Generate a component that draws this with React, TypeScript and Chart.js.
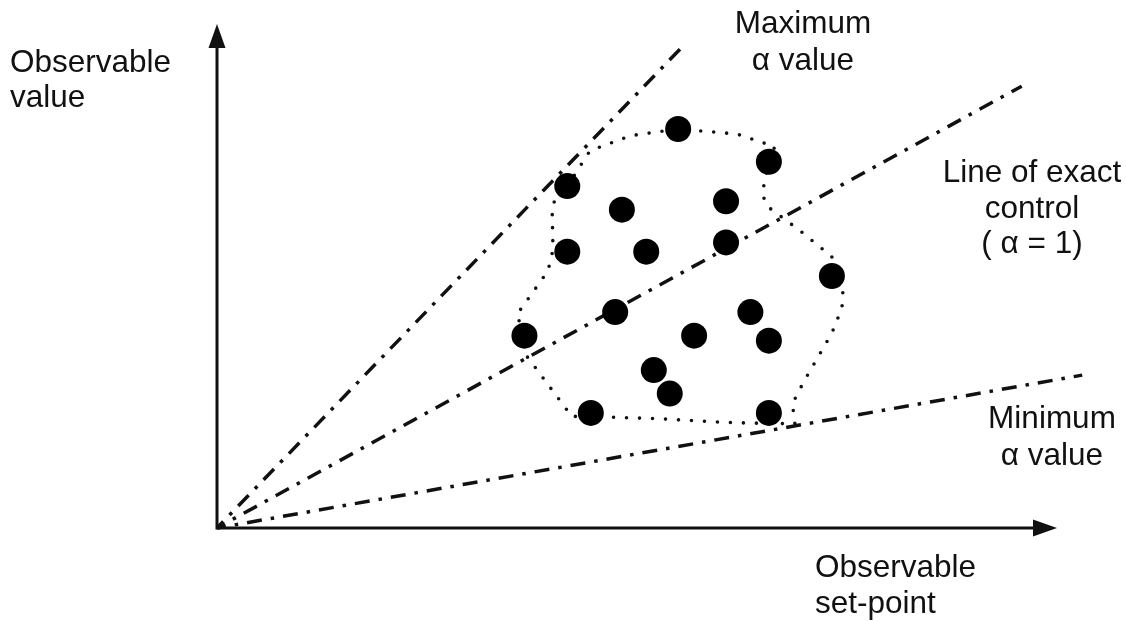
import React, { useEffect, useRef } from "react";
import { Chart, registerables } from "chart.js";

Chart.register(...registerables);

// ---- data (in chart units; origin of the diagram at 0,0) ----
const dotX = [5.49, 6.57, 4.17, 4.82, 6.06, 4.17, 5.11, 6.06, 7.32, 4.74, 6.35, 3.66, 5.68, 6.57, 5.2, 5.39, 4.45, 6.57];
const dotY = [4.75, 4.36, 4.07, 3.79, 3.89, 3.29, 3.29, 3.4, 3.0, 2.57, 2.57, 2.29, 2.29, 2.23, 1.88, 1.6, 1.37, 1.37];

const hullX = [4.17, 4.44, 4.92, 5.49, 6.19, 6.64, 6.57, 6.49, 6.55, 6.94, 7.32, 7.32, 7.45, 7.44, 7.32, 6.99, 6.85, 6.88, 6.31, 5.99, 5.27, 4.68, 4.45, 4.23, 3.64, 3.66, 3.57, 3.94, 4.0, 3.99, 4.04, 4.17];
const hullY = [4.07, 4.49, 4.67, 4.75, 4.69, 4.54, 4.36, 3.98, 3.83, 3.54, 3.23, 3.0, 2.8, 2.62, 2.32, 1.75, 1.48, 1.24, 1.25, 1.26, 1.3, 1.32, 1.37, 1.32, 2.11, 2.29, 2.54, 3.06, 3.31, 3.79, 3.98, 4.07];

// reference lines from the origin: end points
const lineNames = ["Maximum α value", "Line of exact control", "Minimum α value"];
const lineEndX = [5.55, 9.58, 10.3];
const lineEndY = [5.74, 5.26, 1.82];

// axes extents
const X_AXIS_END = 10.0;
const Y_AXIS_END = 6.0;

// annotation texts
const labelLines = [
  ["Observable", "value"],
  ["Maximum", "α value"],
  ["Line of exact", "control", "( α = 1)"],
  ["Minimum", "α value"],
  ["Observable", "set-point"],
];

const INK = "#111111";
const FONT = '31.5px "Liberation Sans", Arial, Helvetica, sans-serif';

// pixel scale of the view window
const UNIT = 84;
const ORIGIN_PX = 217;
const ORIGIN_PY = 528;
const W = 1126;
const H = 621;

const decorPlugin = {
  id: "decor",
  afterDatasetsDraw(chart: any) {
    const { ctx, scales } = chart;
    const xs = scales.x;
    const ys = scales.y;
    const ox = xs.getPixelForValue(0);
    const oy = ys.getPixelForValue(0);
    const tipX = xs.getPixelForValue(X_AXIS_END);
    const tipY = ys.getPixelForValue(Y_AXIS_END);
    ctx.save();
    ctx.fillStyle = INK;
    // y-axis arrowhead
    ctx.beginPath();
    ctx.moveTo(ox, tipY);
    ctx.lineTo(ox - 8.5, tipY + 24);
    ctx.lineTo(ox + 8.5, tipY + 24);
    ctx.closePath();
    ctx.fill();
    // x-axis arrowhead
    ctx.beginPath();
    ctx.moveTo(tipX, oy);
    ctx.lineTo(tipX - 24, oy - 8.5);
    ctx.lineTo(tipX - 24, oy + 8.5);
    ctx.closePath();
    ctx.fill();

    // texts
    ctx.font = FONT;
    ctx.textBaseline = "alphabetic";
    const place = [
      { x: 10, ys: [72, 107], align: "left" },
      { x: 803, ys: [33, 70], align: "center" },
      { x: 1032, ys: [182, 218, 253], align: "center" },
      { x: 1052, ys: [428, 465], align: "center" },
      { x: 815, ys: [577, 613], align: "left" },
    ];
    labelLines.forEach((lines, i) => {
      const p = place[i];
      ctx.textAlign = p.align;
      lines.forEach((t, j) => ctx.fillText(t, p.x, p.ys[j]));
    });
    ctx.restore();
  },
};

export default function App() {
  const ref = useRef<HTMLCanvasElement | null>(null);

  useEffect(() => {
    document.body.style.margin = "0";
    const canvas = ref.current;
    if (!canvas) return;

    const dots = dotX.map((x, i) => ({ x, y: dotY[i] }));
    const hull = hullX.map((x, i) => ({ x, y: hullY[i] }));

    const lineSets = lineNames.map((name, i) => ({
      label: name,
      data: [
        { x: 0, y: 0 },
        { x: lineEndX[i], y: lineEndY[i] },
      ],
      showLine: true,
      borderColor: INK,
      borderWidth: 3.5,
      borderDash: [15, 9, 3.5, 9],
      borderDashOffset: 6,
      pointRadius: 0,
      fill: false,
    }));

    const chart = new Chart(canvas, {
      type: "scatter",
      data: {
        datasets: [
          {
            label: "Observations",
            data: dots,
            backgroundColor: "#000000",
            borderWidth: 0,
            pointRadius: 13,
            pointHoverRadius: 13,
          },
          {
            label: "Hull",
            data: hull,
            showLine: true,
            borderColor: INK,
            borderWidth: 3.6,
            borderDash: [0, 13],
            borderCapStyle: "round",
            borderJoinStyle: "round",
            pointRadius: 0,
            fill: false,
          },
          ...lineSets,
          {
            label: "Axes",
            data: [
              { x: 0, y: Y_AXIS_END - 0.15 },
              { x: 0, y: 0 },
              { x: X_AXIS_END - 0.15, y: 0 },
            ],
            showLine: true,
            borderColor: INK,
            borderWidth: 3,
            borderJoinStyle: "miter",
            pointRadius: 0,
            fill: false,
          },
        ],
      } as any,
      options: {
        animation: false,
        responsive: false,
        events: [],
        layout: { padding: 0, autoPadding: false },
        plugins: {
          legend: { display: false },
          tooltip: { enabled: false },
        },
        scales: {
          x: {
            type: "linear",
            display: false,
            min: -ORIGIN_PX / UNIT,
            max: (W - ORIGIN_PX) / UNIT,
          },
          y: {
            type: "linear",
            display: false,
            min: -(H - ORIGIN_PY) / UNIT,
            max: ORIGIN_PY / UNIT,
          },
        },
      } as any,
      plugins: [decorPlugin],
    });

    return () => chart.destroy();
  }, []);

  return (
    <div style={{ position: "absolute", left: 0, top: 0, width: W, height: H, background: "#fff" }}>
      <canvas ref={ref} width={W} height={H} style={{ display: "block", width: W, height: H }} />
    </div>
  );
}
